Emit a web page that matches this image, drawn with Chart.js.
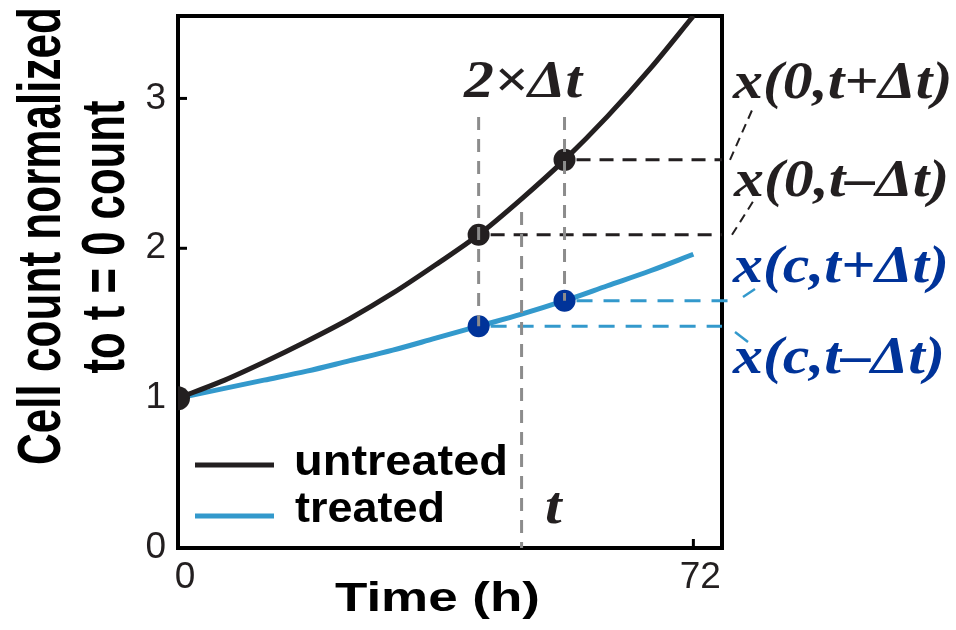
<!DOCTYPE html>
<html>
<head>
<meta charset="utf-8">
<script src="https://cdn.jsdelivr.net/npm/chart.js@4.4.1/dist/chart.umd.min.js"></script>
<style>
  html, body { margin: 0; padding: 0; background: #fff; }
  #wrap { width: 956px; height: 630px; position: relative; }
</style>
</head>
<body>
<div id="wrap"><canvas id="chart-growth"></canvas></div>
<script>
// ── DATA ──────────────────────────────────────────────────────
const hours     = [0, 6, 12, 18, 24, 30, 36, 42, 48, 54, 60, 66, 72];
const untreated = [1.00, 1.11, 1.24, 1.38, 1.53, 1.70, 1.89, 2.09, 2.33, 2.59, 2.88, 3.20, 3.55];
const treated   = [1.00, 1.06, 1.12, 1.18, 1.25, 1.32, 1.40, 1.48, 1.56, 1.65, 1.75, 1.85, 1.96];

const xTicks = [0, 72];
const yTicks = [0, 1, 2, 3];

const tMinus = 42;   // t - Δt
const tMid   = 48;   // t
const tPlus  = 54;   // t + Δt

const INK        = '#231f20';
const LIGHT_BLUE = '#3399cc';
const DARK_BLUE  = '#003399';
const GREY       = '#8c8c8c';

const valAt = (arr, h) => arr[hours.indexOf(h)];

// ── DRAW HELPERS ──────────────────────────────────────────────
function dashLine(ctx, x1, y1, x2, y2, color, w, pattern) {
  ctx.save();
  ctx.strokeStyle = color;
  ctx.lineWidth = w;
  ctx.setLineDash(pattern || []);
  ctx.beginPath();
  ctx.moveTo(x1, y1);
  ctx.lineTo(x2, y2);
  ctx.stroke();
  ctx.restore();
}

// text squeezed / stretched horizontally to a target width
function fitText(ctx, txt, left, baseline, font, width, color) {
  ctx.save();
  ctx.font = font;
  ctx.fillStyle = color;
  ctx.textAlign = 'left';
  ctx.textBaseline = 'alphabetic';
  const sx = width / ctx.measureText(txt).width;
  ctx.translate(left, baseline);
  ctx.scale(sx, 1);
  ctx.fillText(txt, 0, 0);
  ctx.restore();
}

function mathText(ctx, txt, left, baseline, color) {
  ctx.save();
  ctx.font = 'italic bold 52px "Liberation Serif"';
  ctx.fillStyle = color;
  ctx.textAlign = 'left';
  ctx.textBaseline = 'alphabetic';
  ctx.translate(left, baseline);
  ctx.scale(1.15, 1);
  ctx.fillText(txt, 0, 0);
  ctx.restore();
}

// vertical title, baseline on the right side of the glyphs
function vertText(ctx, txt, baseX, cy, len, stretch) {
  ctx.save();
  ctx.font = 'bold 44px "Liberation Sans"';
  ctx.fillStyle = '#000';
  ctx.textAlign = 'center';
  ctx.textBaseline = 'alphabetic';
  const sx = len / ctx.measureText(txt).width;
  ctx.translate(baseX, cy);
  ctx.rotate(-Math.PI / 2);
  ctx.scale(sx, stretch);
  ctx.fillText(txt, 0, 0);
  ctx.restore();
}

// ── FRAME + GUIDES + LABELS PLUGIN ────────────────────────────
const figurePlugin = {
  id: 'figure',
  beforeDatasetsDraw(chart) {
    const ctx = chart.ctx, a = chart.chartArea;
    const xs = chart.scales.x, ys = chart.scales.y;
    ctx.save();
    ctx.strokeStyle = '#000';
    ctx.lineWidth = 4;
    ctx.strokeRect(a.left, a.top, a.right - a.left, a.bottom - a.top);
    ctx.restore();
    // inward ticks
    yTicks.filter(v => v > 0).forEach(v => {
      const y = ys.getPixelForValue(v);
      dashLine(ctx, a.left, y, a.left + 9, y, '#000', 3);
    });
    xTicks.filter(v => v > 0).forEach(v => {
      const x = xs.getPixelForValue(v);
      dashLine(ctx, x, a.bottom, x, a.bottom - 9, '#000', 3);
    });
  },
  afterDatasetsDraw(chart) {
    const ctx = chart.ctx, a = chart.chartArea;
    const px = h => chart.scales.x.getPixelForValue(h);
    const py = v => chart.scales.y.getPixelForValue(v);

    // horizontal read-offs to the right edge
    [tMinus, tPlus].forEach(h => {
      const y = py(valAt(untreated, h));
      dashLine(ctx, px(h) + 12, y, a.right, y, INK, 3, [14, 9]);
    });
    const yb1 = py(valAt(treated, tPlus));
    dashLine(ctx, px(tPlus) + 12, yb1, a.right + 6, yb1, LIGHT_BLUE, 3, [16, 11]);
    const yb0 = py(valAt(treated, tMinus));
    dashLine(ctx, px(tMinus) + 12, yb0, a.right, yb0, LIGHT_BLUE, 3, [16, 11]);

    // vertical guides
    [tMinus, tPlus].forEach(h => {
      dashLine(ctx, px(h), 117, px(h), py(valAt(treated, h)), GREY, 3, [13, 9]);
    });
    dashLine(ctx, px(tMid), 212, px(tMid), a.bottom, GREY, 3, [13, 9]);

    // leaders to the labels
    dashLine(ctx, a.right + 8, py(valAt(untreated, tPlus)), a.right + 31, 108, INK, 2, [9, 6]);
    dashLine(ctx, a.right + 10, py(valAt(untreated, tMinus)), a.right + 32, 200, INK, 2, [9, 6]);
    dashLine(ctx, a.right + 21, 297, a.right + 33, 289, LIGHT_BLUE, 2.5);
    dashLine(ctx, a.right + 13, 332, a.right + 26, 342, LIGHT_BLUE, 2.5);
  },
  afterDraw(chart) {
    const ctx = chart.ctx;

    // legend
    dashLine(ctx, 195, 465, 274, 465, INK, 5);
    dashLine(ctx, 195, 516, 274, 516, LIGHT_BLUE, 5);
    fitText(ctx, 'untreated', 294, 475, 'bold 43px "Liberation Sans"', 214, '#000');
    fitText(ctx, 'treated', 295, 522, 'bold 43px "Liberation Sans"', 150, '#000');

    // axis titles
    fitText(ctx, 'Time (h)', 335, 611, 'bold 41px "Liberation Sans"', 205, '#000');
    vertText(ctx, 'Cell count normalized', 60, 236, 458, 1.38);
    vertText(ctx, 'to t = 0 count', 124, 237, 273, 1.38);

    // math annotations
    mathText(ctx, '2×Δt', 464, 97, INK);
    mathText(ctx, 't', 545, 523, INK);
    mathText(ctx, 'x(0,t+Δt)', 733, 98, INK);
    mathText(ctx, 'x(0,t–Δt)', 734, 196, INK);
    mathText(ctx, 'x(c,t+Δt)', 733, 282, DARK_BLUE);
    mathText(ctx, 'x(c,t–Δt)', 733, 373, DARK_BLUE);
  }
};

// ── CHART ─────────────────────────────────────────────────────
const tickFont = { family: '"Liberation Sans"', size: 37 };

new Chart(document.getElementById('chart-growth').getContext('2d'), {
  type: 'line',
  data: {
    datasets: [
      {
        label: 'untreated', order: 1,
        data: hours.map((h, i) => ({ x: h, y: untreated[i] })),
        borderColor: INK, borderWidth: 5, pointRadius: 0,
        cubicInterpolationMode: 'monotone', fill: false,
      },
      {
        label: 'treated', order: 1,
        data: hours.map((h, i) => ({ x: h, y: treated[i] })),
        borderColor: LIGHT_BLUE, borderWidth: 5, pointRadius: 0,
        cubicInterpolationMode: 'monotone', fill: false,
      },
      {
        label: 'untreated points', order: 0, showLine: false,
        data: [0, tMinus, tPlus].map(h => ({ x: h, y: valAt(untreated, h) })),
        pointRadius: [12, 11, 11], pointBackgroundColor: INK, pointBorderWidth: 0,
      },
      {
        label: 'treated points', order: 0, showLine: false,
        data: [tMinus, tPlus].map(h => ({ x: h, y: valAt(treated, h) })),
        pointRadius: 11, pointBackgroundColor: DARK_BLUE, pointBorderWidth: 0,
      },
    ],
  },
  options: {
    responsive: true, maintainAspectRatio: false, animation: false,
    events: [],
    layout: { padding: { top: 16, right: 234, left: 0, bottom: 0 } },
    plugins: { legend: { display: false }, tooltip: { enabled: false } },
    scales: {
      x: {
        type: 'linear', min: 0, max: 76,
        afterBuildTicks: s => { s.ticks = xTicks.map(v => ({ value: v })); },
        afterFit: s => { s.height = 82; s.paddingLeft = 0; s.paddingRight = 0; },
        grid: { display: false, drawTicks: false },
        border: { display: false },
        ticks: { font: tickFont, color: INK, padding: 8, labelOffset: 7, maxRotation: 0, autoSkip: false },
      },
      y: {
        type: 'linear', min: 0, max: 3.55,
        afterBuildTicks: s => { s.ticks = yTicks.map(v => ({ value: v })); },
        afterFit: s => { s.width = 178; s.paddingTop = 0; s.paddingBottom = 0; },
        grid: { display: false, drawTicks: false },
        border: { display: false },
        ticks: { font: tickFont, color: INK, padding: 12, autoSkip: false },
      },
    },
  },
  plugins: [figurePlugin],
});
</script>
</body>
</html>
